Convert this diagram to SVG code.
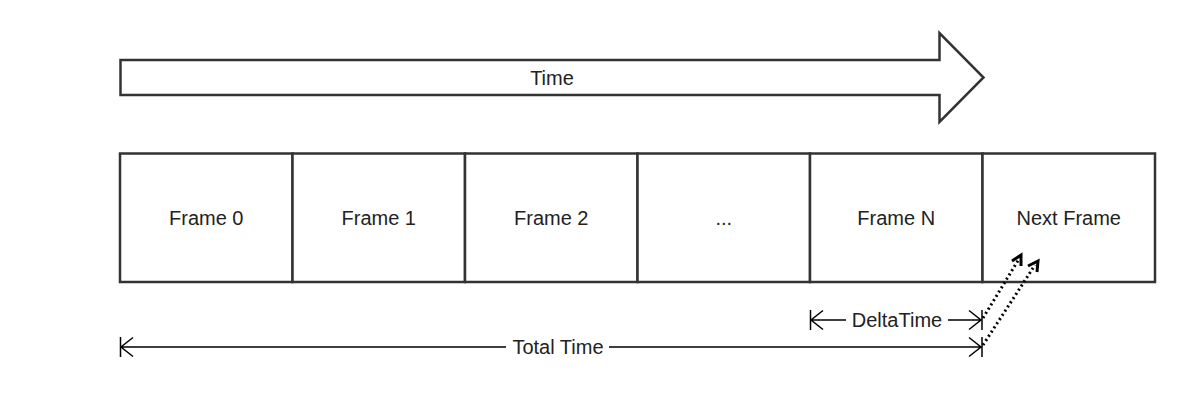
<svg xmlns="http://www.w3.org/2000/svg" width="1200" height="416" viewBox="0 0 1200 416">
<defs>
<style>
.box{fill:#fff;stroke:#333;stroke-width:2.5}
.lbl{font-family:"Liberation Sans",Arial,sans-serif;font-size:20px;fill:#222;text-anchor:middle}
.dim{stroke:#000;stroke-width:1.5;fill:none}
.dot{stroke:#000;stroke-width:3;fill:none;stroke-dasharray:2 3}
.head{stroke:#000;stroke-width:3;fill:none;stroke-linejoin:miter}
</style>
</defs>
<rect width="1200" height="416" fill="#fff"/>
<g id="time-arrow">
<path class="box" d="M120.5,60 L939.5,60 L939.5,33 L983.5,77.5 L939.5,122 L939.5,95 L120.5,95 Z"/>
<text class="lbl" x="552" y="84.5">Time</text>
</g>
<g id="frame0"><rect class="box" x="120" y="153.5" width="172.5" height="128.5"/><text class="lbl" x="206.25" y="224.5">Frame 0</text></g>
<g id="frame1"><rect class="box" x="292.5" y="153.5" width="172.5" height="128.5"/><text class="lbl" x="378.75" y="224.5">Frame 1</text></g>
<g id="frame2"><rect class="box" x="465" y="153.5" width="172.5" height="128.5"/><text class="lbl" x="551.25" y="224.5">Frame 2</text></g>
<g id="frame-dots"><rect class="box" x="637.5" y="153.5" width="172.5" height="128.5"/><text class="lbl" x="723.75" y="224.5">...</text></g>
<g id="frameN"><rect class="box" x="810" y="153.5" width="172.5" height="128.5"/><text class="lbl" x="896.25" y="224.5">Frame N</text></g>
<g id="next-frame"><rect class="box" x="982.5" y="153.5" width="172.5" height="128.5"/><text class="lbl" x="1068.75" y="224.5">Next Frame</text></g>
<g id="connectors">
<g id="delta-time">
<line class="dim" x1="810.5" y1="310" x2="810.5" y2="330"/>
<line class="dim" x1="982" y1="310" x2="982" y2="330"/>
<path class="dim" d="M811,320 L846,320 M823,310.5 L811,320 L823,329.5"/>
<path class="dim" d="M948,320 L981,320 M969,310.5 L981,320 L969,329.5"/>
<text class="lbl" x="897" y="327">DeltaTime</text>
</g>
<g id="total-time">
<line class="dim" x1="120.5" y1="337" x2="120.5" y2="357"/>
<line class="dim" x1="982" y1="337" x2="982" y2="357"/>
<path class="dim" d="M121,347 L506,347 M133,337.5 L121,347 L133,356.5"/>
<path class="dim" d="M609,347 L981,347 M969,337.5 L981,347 L969,356.5"/>
<text class="lbl" x="558" y="354">Total Time</text>
</g>
<g id="dotted-arrows">
<line class="dot" x1="983" y1="318" x2="1019" y2="259"/>
<path class="head" d="M1012,261 L1021,255 L1021,266"/>
<line class="dot" x1="983" y1="345" x2="1035" y2="265"/>
<path class="head" d="M1028,266 L1038,261 L1037,272"/>
</g>
</g>
</svg>
